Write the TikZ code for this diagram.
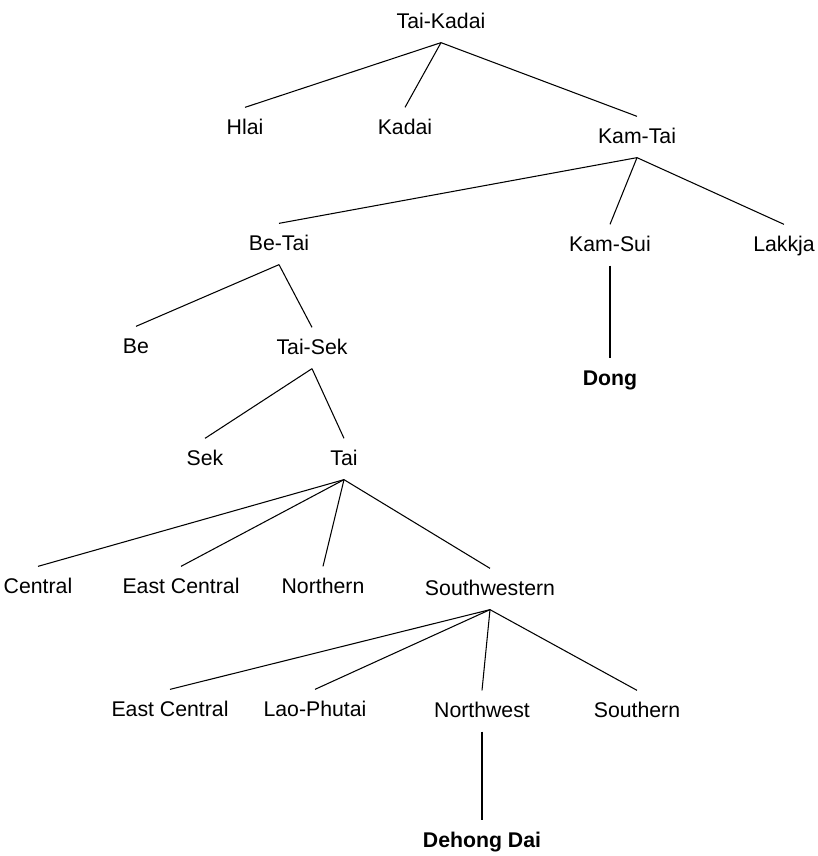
\documentclass[tikz,border=0pt]{standalone}
\usepackage{fontspec}
\setmainfont{Liberation Sans}

\tikzset{
  lang/.style={inner xsep=2pt, inner ysep=5.3pt, text height=10pt, text depth=2.5pt,
               font=\fontsize{12.1}{14}\selectfont},
  langbold/.style={lang, font=\fontsize{12.1}{14}\selectfont\bfseries},
  branch/.style={line width=0.6pt}
}

\begin{document}
\begin{tikzpicture}

\useasboundingbox (0,0) rectangle (16.34,-17.12);

\node[lang] (taikadai) at (8.82,-0.44) {Tai-Kadai};

\node[lang] (hlai) at (4.90,-2.56) {Hlai};
\node[lang] (kadai) at (8.10,-2.56) {Kadai};
\node[lang] (kamtai) at (12.74,-2.74) {Kam-Tai};

\node[lang] (betai) at (5.58,-4.88) {Be-Tai};
\node[lang] (kamsui) at (12.20,-4.90) {Kam-Sui};
\node[lang] (lakkja) at (15.68,-4.90) {Lakkja};

\node[lang] (be) at (2.72,-6.94) {Be};
\node[lang] (taisek) at (6.24,-6.96) {Tai-Sek};
\node[langbold] (dong) at (12.20,-7.58) {Dong};

\node[lang] (sek) at (4.10,-9.18) {Sek};
\node[lang] (tai) at (6.88,-9.18) {Tai};

\node[lang] (central) at (0.76,-11.74) {Central};
\node[lang] (eastcentral) at (3.62,-11.74) {East Central};
\node[lang] (northern) at (6.46,-11.74) {Northern};
\node[lang] (southwestern) at (9.80,-11.78) {Southwestern};

\node[lang] (swcentral) at (3.40,-14.20) {East Central};
\node[lang] (laophutai) at (6.30,-14.20) {Lao-Phutai};
\node[lang] (northwest) at (9.64,-14.22) {Northwest};
\node[lang] (southern) at (12.74,-14.22) {Southern};

\node[langbold] (dehongdai) at (9.64,-16.82) {Dehong Dai};

% branches
\draw[branch] (taikadai.south) -- (hlai.north);
\draw[branch] (taikadai.south) -- (kadai.north);
\draw[branch] (taikadai.south) -- (kamtai.north);

\draw[branch] (kamtai.south) -- (betai.north);
\draw[branch] (kamtai.south) -- (kamsui.north);
\draw[branch] (kamtai.south) -- (lakkja.north);

\draw[branch] (betai.south) -- (be.north);
\draw[branch] (betai.south) -- (taisek.north);
\draw[branch] (kamsui.south) -- (dong.north);

\draw[branch] (taisek.south) -- (sek.north);
\draw[branch] (taisek.south) -- (tai.north);

\draw[branch] (tai.south) -- (central.north);
\draw[branch] (tai.south) -- (eastcentral.north);
\draw[branch] (tai.south) -- (northern.north);
\draw[branch] (tai.south) -- (southwestern.north);

\draw[branch] (southwestern.south) -- (swcentral.north);
\draw[branch] (southwestern.south) -- (laophutai.north);
\draw[branch] (southwestern.south) -- (northwest.north);
\draw[branch] (southwestern.south) -- (southern.north);

\draw[branch] (northwest.south) -- (dehongdai.north);

\end{tikzpicture}
\end{document}
